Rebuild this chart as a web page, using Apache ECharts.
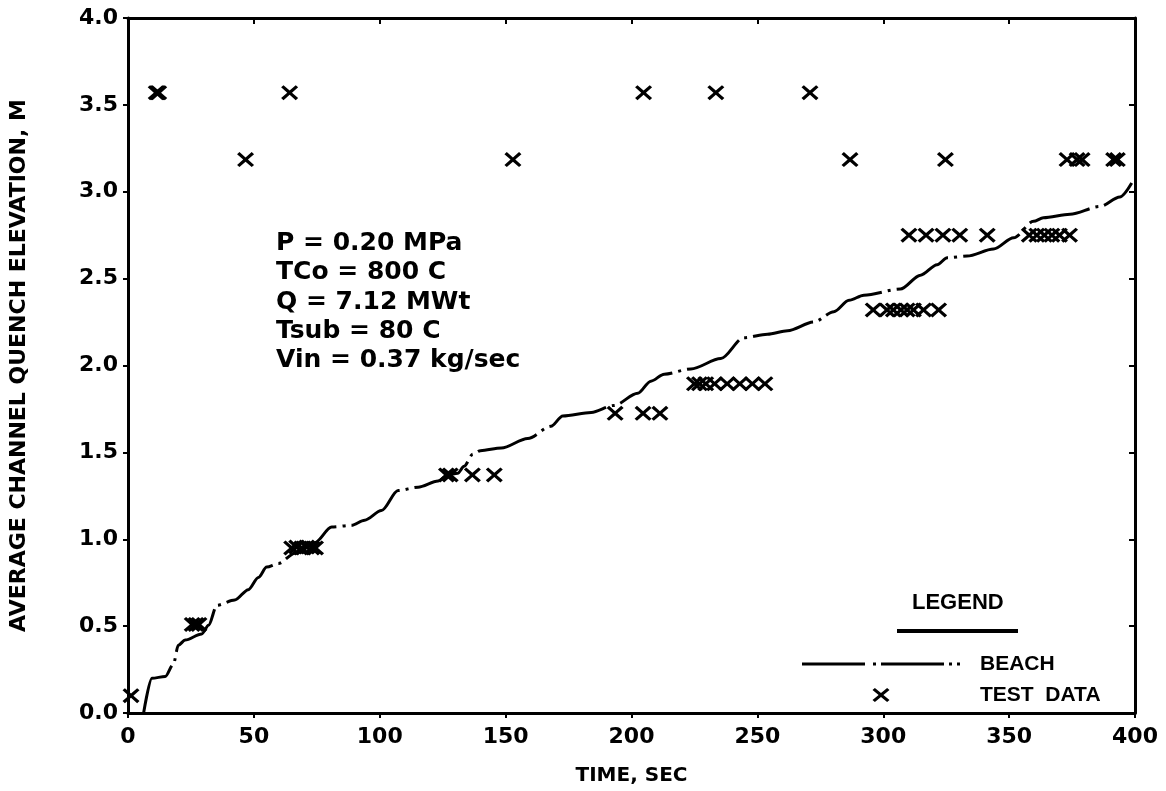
<!DOCTYPE html>
<html>
<head>
<meta charset="utf-8">
<script src="https://cdn.jsdelivr.net/npm/echarts@6/dist/echarts.min.js"></script>
<style>
html,body{margin:0;padding:0;background:#fff;}
#main{width:1166px;height:791px;}
</style>
</head>
<body>
<div id="main"></div>
<script>
// ---- data ----
const xTicks = [0, 50, 100, 150, 200, 250, 300, 350, 400];
const yTicks = [0.0, 0.5, 1.0, 1.5, 2.0, 2.5, 3.0, 3.5, 4.0];

const beachX = [6.2, 9.5, 14.8, 18, 20, 22.7, 29.3, 32, 35.3, 42.4, 47.8, 51.8, 55.1, 59.7, 66.3, 74.2, 80.9, 88.8, 94, 100.7, 107.3, 115.2, 123.2, 127, 131, 133.5, 137, 140, 148.3, 158.8, 168, 172.7, 184, 193, 202.5, 207.7, 213, 223.6, 235.5, 244.6, 254, 262, 272.4, 280.4, 286.4, 292.3, 306.8, 314.8, 321.4, 325.4, 333.3, 343.8, 351.8, 359.7, 363.6, 374.2, 386.1, 394, 398.7];
const beachY = [0, 0.2, 0.21, 0.28, 0.39, 0.42, 0.455, 0.505, 0.62, 0.65, 0.71, 0.78, 0.84, 0.86, 0.92, 0.98, 1.07, 1.08, 1.11, 1.165, 1.28, 1.3, 1.335, 1.37, 1.38, 1.42, 1.49, 1.51, 1.525, 1.58, 1.65, 1.71, 1.73, 1.77, 1.84, 1.91, 1.95, 1.98, 2.04, 2.16, 2.18, 2.2, 2.25, 2.31, 2.375, 2.405, 2.44, 2.52, 2.58, 2.62, 2.63, 2.67, 2.735, 2.83, 2.85, 2.87, 2.915, 2.97, 3.05];

const testX = [1.2, 25.5, 27, 28.2, 65, 67, 69, 71, 73, 74.5, 126.5, 128, 136.8, 145.5, 193.5, 204.6, 211.3, 225, 227, 229.5, 233, 238, 243, 248, 253, 296, 301.5, 304, 307, 309.5, 312, 316, 322, 310.2, 317, 323.7, 330.4, 341.3, 358, 361, 364, 367, 370, 374, 46.7, 152.9, 286.8, 324.7, 373, 377, 379, 391.5, 393, 11.2, 11.7, 12.2, 64.2, 204.8, 233.5, 270.9];
const testY = [0.10, 0.51, 0.51, 0.51, 0.95, 0.955, 0.95, 0.955, 0.95, 0.95, 1.37, 1.37, 1.37, 1.37, 1.725, 1.725, 1.725, 1.895, 1.895, 1.895, 1.895, 1.895, 1.895, 1.895, 1.895, 2.32, 2.32, 2.32, 2.32, 2.32, 2.32, 2.32, 2.32, 2.75, 2.75, 2.75, 2.75, 2.75, 2.75, 2.75, 2.75, 2.75, 2.75, 2.75, 3.185, 3.185, 3.185, 3.185, 3.185, 3.185, 3.185, 3.185, 3.185, 3.57, 3.57, 3.57, 3.57, 3.57, 3.57, 3.57];

const paramLines = ['P = 0.20 MPa', 'TCo = 800 C', 'Q = 7.12 MWt', 'Tsub = 80 C', 'Vin = 0.37 kg/sec'];
const legendNames = ['BEACH', 'TEST DATA'];
const xTitle = 'TIME, SEC';
const yTitle = 'AVERAGE CHANNEL QUENCH ELEVATION, M';

// ---- chart ----
const beachData = beachX.map((x, i) => [x, beachY[i]]);
const testData = testX.map((x, i) => [x, testY[i]]);
const xShape = [[0,14],[14,0],[50,36],[86,0],[100,14],[64,50],[100,86],[86,100],[50,64],[14,100],[0,86],[36,50]];
const xSym = 'path://M' + xShape.map(p => p.join(',')).join(' L') + ' Z';
const legendX = xShape.map(p => [872.5 + p[0] * 0.17, 688 + p[1] * 0.14]);
const tickFont = {fontFamily: 'DejaVu Sans', fontWeight: 'bold', fontSize: 22, color: '#000'};
const legendFont = 'bold 21px "Liberation Sans"';

const chart = echarts.init(document.getElementById('main'), null, {renderer: 'canvas'});
chart.setOption({
  backgroundColor: '#fff',
  animation: false,
  grid: {left: 126, right: 31, top: 18, bottom: 69, containLabel: false},
  xAxis: [{
    type: 'value', min: 0, max: 400, interval: 50, position: 'bottom',
    name: xTitle, nameLocation: 'middle', nameGap: 53,
    nameTextStyle: {fontFamily: 'DejaVu Sans', fontWeight: 'bold', fontSize: 20, color: '#000'},
    axisLine: {show: true, onZero: false, lineStyle: {color: '#000', width: 3}},
    axisTick: {show: true, inside: false, length: 5, lineStyle: {color: '#000', width: 2}},
    axisLabel: Object.assign({margin: 13, formatter: v => xTicks.includes(v) ? String(v) : ''}, tickFont),
    splitLine: {show: false}
  }, {
    type: 'value', min: 0, max: 400, interval: 50, position: 'top',
    axisLine: {show: true, onZero: false, lineStyle: {color: '#000', width: 3}},
    axisTick: {show: true, inside: true, length: 6, lineStyle: {color: '#000', width: 2}},
    axisLabel: {show: false}, splitLine: {show: false}
  }],
  yAxis: [{
    type: 'value', min: 0, max: 4, interval: 0.5, position: 'left',
    name: yTitle, nameLocation: 'middle', nameGap: 98, nameRotate: 90,
    nameTextStyle: {fontFamily: 'DejaVu Sans', fontWeight: 'bold', fontSize: 22, color: '#000'},
    axisLine: {show: true, onZero: false, lineStyle: {color: '#000', width: 3}},
    axisTick: {show: true, inside: false, length: 5, lineStyle: {color: '#000', width: 2}},
    axisLabel: Object.assign({margin: 10, formatter: v => v.toFixed(1)}, tickFont),
    splitLine: {show: false}
  }, {
    type: 'value', min: 0, max: 4, interval: 0.5, position: 'right',
    axisLine: {show: true, onZero: false, lineStyle: {color: '#000', width: 3}},
    axisTick: {show: true, inside: true, length: 6, lineStyle: {color: '#000', width: 2}},
    axisLabel: {show: false}, splitLine: {show: false}
  }],
  graphic: [
    {type: 'text', left: 276, top: 229, silent: true,
     style: {text: paramLines.join('\n'), font: 'bold 25px "DejaVu Sans"', lineHeight: 29.2, fill: '#000'}},
    {type: 'text', left: 912, top: 592, silent: true,
     style: {text: 'LEGEND', font: 'bold 22px "Liberation Sans"', fill: '#000'}},
    {type: 'line', silent: true, shape: {x1: 897, y1: 631, x2: 1018, y2: 631},
     style: {stroke: '#000', lineWidth: 4}},
    {type: 'line', silent: true, shape: {x1: 802, y1: 664, x2: 962, y2: 664},
     style: {stroke: '#000', lineWidth: 3, lineDash: [63, 8, 3, 5, 63, 5, 3, 5, 3, 200]}},
    {type: 'text', x: 980, y: 664, silent: true,
     style: {text: legendNames[0], font: legendFont, fill: '#000', verticalAlign: 'middle'}},
    {type: 'polygon', silent: true, shape: {points: legendX}, style: {fill: '#000'}},
    {type: 'text', x: 980, y: 695, silent: true,
     style: {text: legendNames[1].replace(' ', '  '), font: legendFont, fill: '#000', verticalAlign: 'middle'}}
  ],
  series: [{
    name: legendNames[0], type: 'line', data: beachData,
    xAxisIndex: 0, yAxisIndex: 0,
    showSymbol: false, symbol: 'none', smooth: 0.3, smoothMonotone: 'x',
    lineStyle: {color: '#000', width: 3, type: [62, 6, 3, 6]},
    itemStyle: {color: '#000'}, z: 2
  }, {
    name: legendNames[1], type: 'scatter', data: testData,
    xAxisIndex: 0, yAxisIndex: 0,
    symbol: xSym, symbolSize: [17, 15],
    itemStyle: {color: '#000', opacity: 1}, z: 3
  }]
});
</script>
</body>
</html>
